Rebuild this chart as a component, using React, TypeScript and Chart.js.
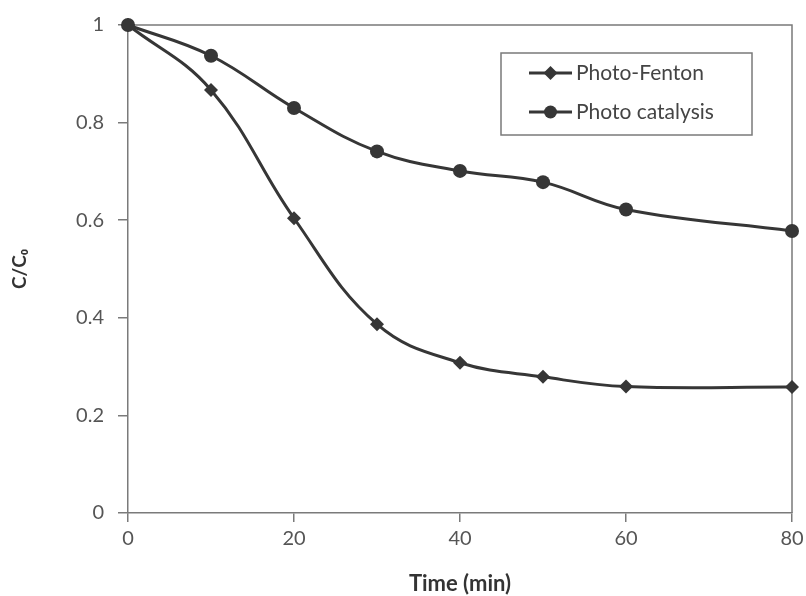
import { useEffect, useRef } from "react";
import { Chart, registerables } from "chart.js";
Chart.register(...registerables);

const timeMin = [0, 10, 20, 30, 40, 50, 60, 80];
const photoFenton = [1, 0.867, 0.604, 0.387, 0.308, 0.279, 0.259, 0.258];
const photoCatalysis = [1, 0.937, 0.83, 0.741, 0.701, 0.678, 0.622, 0.578];
const xTicks = [0, 20, 40, 60, 80];
const yTicks = [0, 0.2, 0.4, 0.6, 0.8, 1];
const seriesLabels = ["Photo-Fenton", "Photo catalysis"];
const xTitle = "Time (min)";
const yTitle = "C/C\u2080";

const FONT = "Lato, 'Open Sans', sans-serif";
const LINE = "#363636";
const AXIS = "#7a7a7a";

const framePlugin = {
  id: "frame",
  beforeDatasetsDraw(chart: any) {
    const { ctx, chartArea } = chart;
    ctx.save();
    ctx.strokeStyle = AXIS;
    ctx.lineWidth = 1.5;
    ctx.beginPath();
    ctx.moveTo(chartArea.left, chartArea.top);
    ctx.lineTo(chartArea.right, chartArea.top);
    ctx.lineTo(chartArea.right, chartArea.bottom);
    ctx.stroke();
    ctx.restore();
  },
  afterDraw(chart: any) {
    const { ctx, chartArea } = chart;
    const left = chartArea.right - 291;
    const top = chartArea.top + 28;
    const w = 251;
    const h = 82;
    ctx.save();
    ctx.fillStyle = "#fff";
    ctx.fillRect(left, top, w, h);
    ctx.strokeStyle = AXIS;
    ctx.lineWidth = 1.5;
    ctx.strokeRect(left, top, w, h);
    chart.data.datasets.forEach((ds: any, i: number) => {
      const y = top + 20 + i * 39;
      const x0 = left + 28;
      const x1 = left + 71;
      ctx.strokeStyle = LINE;
      ctx.lineWidth = 3;
      ctx.beginPath();
      ctx.moveTo(x0, y);
      ctx.lineTo(x1, y);
      ctx.stroke();
      ctx.fillStyle = LINE;
      const cx = (x0 + x1) / 2;
      ctx.beginPath();
      if (ds.pointStyle === "rectRot") {
        const r = 7;
        ctx.moveTo(cx, y - r);
        ctx.lineTo(cx + r, y);
        ctx.lineTo(cx, y + r);
        ctx.lineTo(cx - r, y);
        ctx.closePath();
      } else {
        ctx.arc(cx, y, 6.5, 0, Math.PI * 2);
      }
      ctx.fill();
      ctx.fillStyle = "#444";
      ctx.font = `21px ${FONT}`;
      ctx.textBaseline = "middle";
      ctx.textAlign = "left";
      ctx.fillText(ds.label, x1 + 4, y);
    });
    ctx.restore();
  },
};

export default function App() {
  const ref = useRef<HTMLCanvasElement>(null);
  useEffect(() => {
    if (!ref.current) return;
    const chart = new Chart(ref.current, {
      type: "line",
      data: {
        datasets: [
          {
            label: seriesLabels[0],
            data: timeMin.map((t, i) => ({ x: t, y: photoFenton[i] })),
            borderColor: LINE,
            backgroundColor: LINE,
            borderWidth: 3,
            pointStyle: "rectRot",
            pointRadius: 7,
            pointBorderWidth: 0,
            tension: 0.4,
            clip: false,
          },
          {
            label: seriesLabels[1],
            data: timeMin.map((t, i) => ({ x: t, y: photoCatalysis[i] })),
            borderColor: LINE,
            backgroundColor: LINE,
            borderWidth: 3,
            pointStyle: "circle",
            pointRadius: 7,
            pointBorderWidth: 0,
            tension: 0.4,
            clip: false,
          },
        ],
      },
      options: {
        responsive: false,
        animation: false,
        layout: { padding: { top: 25, right: 14, left: 0, bottom: 0 } },
        plugins: { legend: { display: false }, tooltip: { enabled: false } },
        scales: {
          x: {
            type: "linear",
            min: 0,
            max: 80,
            afterBuildTicks: (s: any) => {
              s.ticks = xTicks.map((v) => ({ value: v }));
            },
            afterFit: (s: any) => {
              s.height = 83;
              s.paddingLeft = 0;
              s.paddingRight = 0;
            },
            grid: { drawOnChartArea: false, drawTicks: true, tickLength: 9, color: AXIS, lineWidth: 1.5 },
            border: { color: AXIS, width: 1.5 },
            ticks: { color: "#555", font: { family: FONT, size: 20 }, padding: 5, maxRotation: 0 },
            title: {
              display: true,
              text: xTitle,
              color: "#333",
              font: { family: FONT, size: 22, weight: "bold" },
              padding: { top: 0, bottom: -1 },
            },
          },
          y: {
            type: "linear",
            min: 0,
            max: 1,
            afterBuildTicks: (s: any) => {
              s.ticks = yTicks.map((v) => ({ value: v }));
            },
            afterFit: (s: any) => {
              s.width = 128;
              s.paddingTop = 0;
              s.paddingBottom = 0;
            },
            grid: { drawOnChartArea: false, drawTicks: true, tickLength: 10, color: AXIS, lineWidth: 1.5 },
            border: { color: AXIS, width: 1.5 },
            ticks: {
              color: "#555",
              font: { family: FONT, size: 20 },
              padding: 14,
              callback: (v: any) => String(Number(Number(v).toFixed(1))),
            },
            title: {
              display: true,
              text: yTitle,
              color: "#333",
              font: { family: FONT, size: 19, weight: "bold" },
              padding: { top: 8, bottom: 0 },
            },
          },
        },
      },
      plugins: [framePlugin],
    } as any);
    return () => chart.destroy();
  }, []);
  return (
    <div style={{ position: "fixed", left: 0, top: 0, width: 806, height: 596, background: "#fff" }}>
      <canvas ref={ref} width={806} height={596} style={{ display: "block" }} />
    </div>
  );
}
